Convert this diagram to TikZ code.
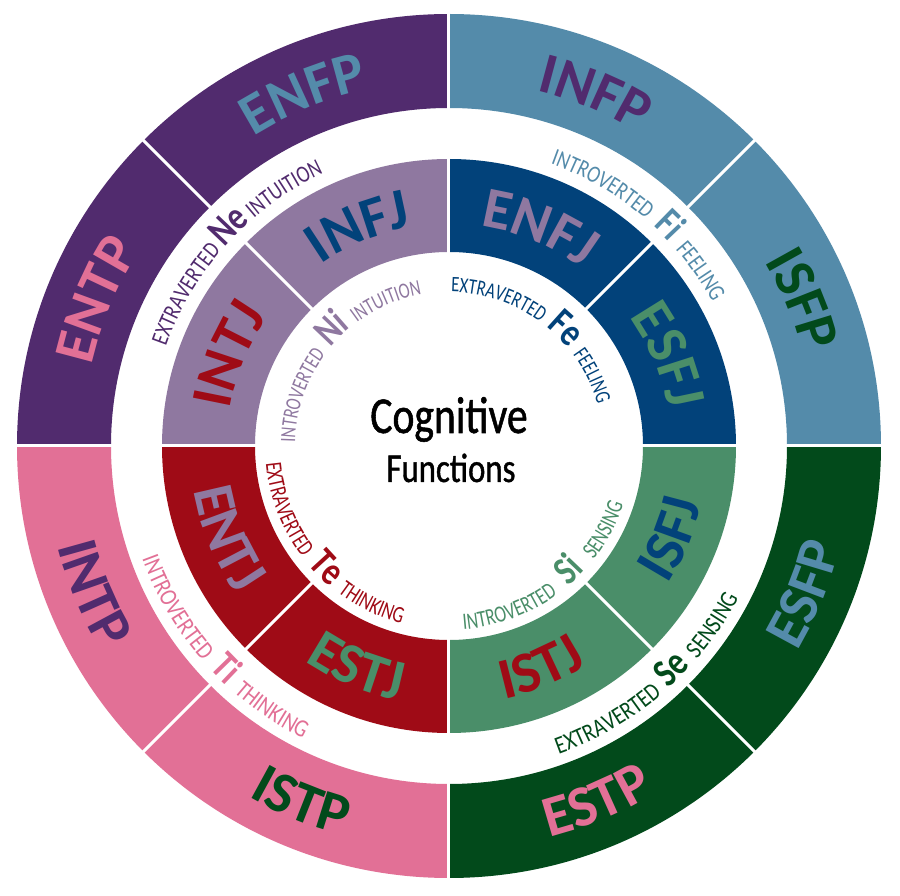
\documentclass[tikz,border=0pt]{standalone}
\usepackage{fontspec}
\setmainfont{Carlito}
\newfontfamily\condfont[FakeStretch=0.8]{Carlito}
\newfontfamily\condfontB[FakeStretch=0.83]{Carlito}
\newfontfamily\condfontC[FakeStretch=0.75]{Carlito}
\newfontfamily\centerfont[FakeStretch=0.8,FakeBold=1.0]{Carlito}
\usetikzlibrary{decorations.text}
\definecolor{cDP}{HTML}{512B6E}
\definecolor{cLP}{HTML}{8F78A0}
\definecolor{cSB}{HTML}{548BAA}
\definecolor{cDB}{HTML}{02427A}
\definecolor{cPK}{HTML}{E27096}
\definecolor{cDR}{HTML}{9F0B16}
\definecolor{cDG}{HTML}{024A1B}
\definecolor{cMG}{HTML}{4A8E69}
\newcommand\typefnt{\bfseries\fontsize{58}{58}\selectfont}
\newcommand\smallOT{\condfont\fontsize{24}{24}\selectfont}
\newcommand\smallOB{\condfontB\fontsize{25}{25}\selectfont}
\newcommand\smallIT{\condfontC\fontsize{22}{22}\selectfont}
\newcommand\smallIB{\condfontC\fontsize{23.5}{23.5}\selectfont}
\newcommand\bigfnt{\condfont\bfseries\fontsize{40}{40}\selectfont}
\newcommand\ringsec[5]{\fill[#1] (#2:#5pt) arc[start angle=#2,end angle=#3,radius=#5pt] -- (#3:#4pt) arc[start angle=#3,end angle=#2,radius=#4pt] -- cycle;}
\newcommand\typetop[4]{%
 \path[decorate,decoration={text along path,text align=center,text color=#3,text={|\typefnt|#4}}]
  ({#1+40}:#2pt) arc[start angle={#1+40},end angle={#1-40},radius=#2pt];}
\newcommand\typebot[4]{%
 \path[decorate,decoration={text along path,text align=center,text color=#3,text={|\typefnt|#4}}]
  ({#1-40}:#2pt) arc[start angle={#1-40},end angle={#1+40},radius=#2pt];}
% #1 angle, #2 baseline radius, #3 colour, #4 prefix, #5 big letters, #6 suffix, #7 half gap (deg), #8 small font
\newcommand\labtop[8]{%
 \path[decorate,decoration={text along path,text align=right,text color=#3,text={|#8|#4}}]
  ({#1+75}:#2pt) arc[start angle={#1+75},end angle={#1+#7},radius=#2pt];
 \path[decorate,decoration={text along path,text align=center,text color=#3,text={|\bigfnt|#5}}]
  ({#1+30}:#2pt) arc[start angle={#1+30},end angle={#1-30},radius=#2pt];
 \path[decorate,decoration={text along path,text align=left,text color=#3,text={|#8|#6}}]
  ({#1-#7}:#2pt) arc[start angle={#1-#7},end angle={#1-75},radius=#2pt];}
\newcommand\labbot[8]{%
 \path[decorate,decoration={text along path,text align=right,text color=#3,text={|#8|#4}}]
  ({#1-75}:#2pt) arc[start angle={#1-75},end angle={#1-#7},radius=#2pt];
 \path[decorate,decoration={text along path,text align=center,text color=#3,text={|\bigfnt|#5}}]
  ({#1-30}:#2pt) arc[start angle={#1-30},end angle={#1+30},radius=#2pt];
 \path[decorate,decoration={text along path,text align=left,text color=#3,text={|#8|#6}}]
  ({#1+#7}:#2pt) arc[start angle={#1+#7},end angle={#1+75},radius=#2pt];}
\begin{document}
\begin{tikzpicture}
\fill[white] (-449pt,-450pt) rectangle (451pt,446pt);
\useasboundingbox (-449pt,-450pt) rectangle (451pt,446pt);
% outer ring
\ringsec{cDP}{90}{180}{338}{432}
\ringsec{cSB}{0}{90}{338}{432}
\ringsec{cPK}{180}{270}{338}{432}
\ringsec{cDG}{270}{360}{338}{432}
% inner ring
\ringsec{cLP}{90}{180}{194}{287}
\ringsec{cDB}{0}{90}{194}{287}
\ringsec{cDR}{180}{270}{194}{287}
\ringsec{cMG}{270}{360}{194}{287}
% separators
\draw[white,line width=3pt] (-440pt,0pt) -- (440pt,0pt);
\draw[white,line width=3pt] (0pt,-440pt) -- (0pt,440pt);
\foreach \a in {45,135,225,315} \draw[white,line width=3pt] (\a:190pt) -- (\a:440pt);
% outer types
\typetop{157.5}{366}{cPK}{ENTP}
\typetop{112.5}{366}{cSB}{ENFP}
\typetop{67.5}{366}{cDP}{INFP}
\typetop{22.5}{366}{cDG}{ISFP}
\typebot{-22.5}{404}{cSB}{ESFP}
\typebot{-67.5}{404}{cPK}{ESTP}
\typebot{-112.5}{404}{cDG}{ISTP}
\typebot{-157.5}{404}{cDP}{INTP}
% inner types
\typetop{157.5}{222}{cDR}{INTJ}
\typetop{112.5}{222}{cDB}{INFJ}
\typetop{67.5}{222}{cLP}{ENFJ}
\typetop{22.5}{222}{cMG}{ESFJ}
\typebot{-22.5}{259}{cDB}{ISFJ}
\typebot{-67.5}{259}{cDR}{ISTJ}
\typebot{-112.5}{259}{cMG}{ESTJ}
\typebot{-157.5}{259}{cLP}{ENTJ}
% band labels
\labtop{135}{300}{cDP}{EXTRAVERTED}{Ne}{INTUITION}{4.4}{\smallOT}
\labtop{45}{300}{cSB}{INTROVERTED}{Fi}{FEELING}{4.0}{\smallOT}
\labbot{225}{327}{cPK}{INTROVERTED}{Ti}{THINKING}{3.8}{\smallOB}
\labbot{-45}{327}{cDG}{EXTRAVERTED}{Se}{SENSING}{4.3}{\smallOB}
\labtop{135}{154}{cLP}{INTROVERTED}{Ni}{INTUITION}{8.3}{\smallIT}
\labtop{45}{154}{cDB}{EXTRAVERTED}{Fe}{FEELING}{8.6}{\smallIT}
\labbot{225}{184}{cDR}{EXTRAVERTED}{Te}{THINKING}{7.8}{\smallIB}
\labbot{-46}{184}{cMG}{INTROVERTED}{Si}{SENSING}{7.8}{\smallIB}
% centre
\node[anchor=base,inner sep=0pt,font=\centerfont\fontsize{52}{52}\selectfont] (cog) at (0pt,13pt) {Cognitive};
\node[anchor=base,inner sep=0pt,font=\centerfont\fontsize{41}{41}\selectfont] (fun) at (2pt,-36pt) {Functions};
\end{tikzpicture}
\end{document}
